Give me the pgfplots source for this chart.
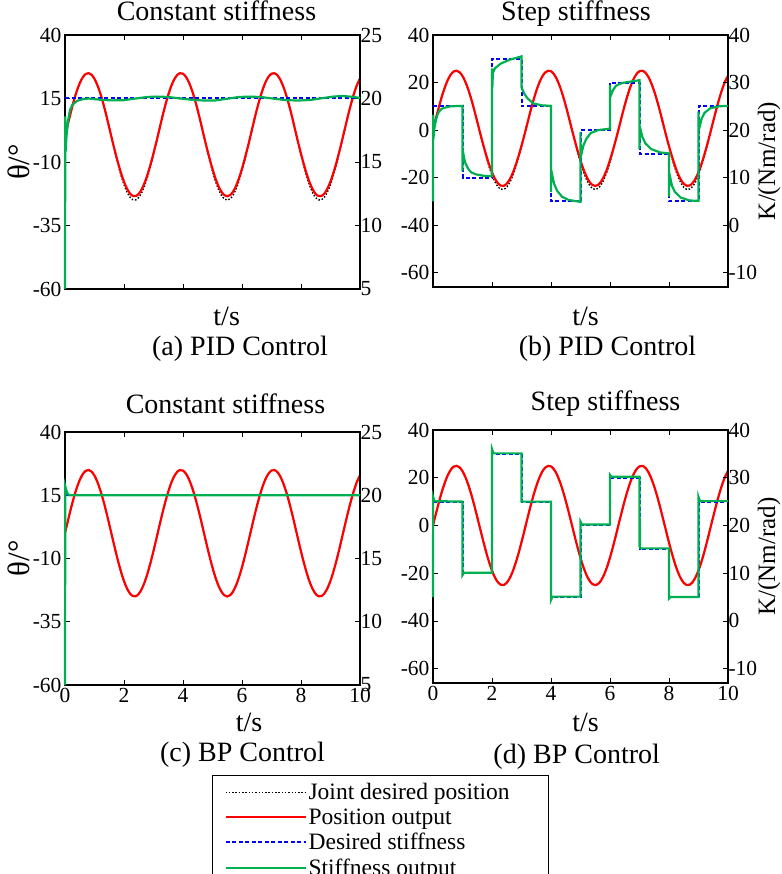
\documentclass[border=0pt]{standalone}
\usepackage{fontspec}
\setmainfont{Liberation Serif}
\usepackage{pgfplots}
\usepackage{pgfplotstable}
\pgfplotsset{compat=1.18}

\definecolor{kgreen}{RGB}{0,176,80}
\definecolor{kblue}{RGB}{0,0,255}
\definecolor{kred}{RGB}{255,0,0}

\newcommand\tickfont{\fontsize{21.5}{24}\selectfont}
\newcommand\labfont{\fontsize{28}{32}\selectfont}
\newcommand\legfont{\fontsize{23.5}{26}\selectfont}

% joint desired position (deg)
\pgfplotstableread{
t y
0.0 0
0.1 4.97
0.2 9.74
0.3 14.12
0.4 17.94
0.5 21.04
0.6 23.30
0.7 24.64
0.8 24.99
0.9 24.35
1.0 22.73
1.1 20.21
1.2 16.89
1.3 12.89
1.4 8.38
1.5 3.53
1.6 -1.46
1.7 -6.39
1.8 -11.06
1.9 -15.30
2.0 -18.92
2.1 -21.79
2.2 -23.79
2.3 -24.84
2.4 -24.91
2.5 -23.97
2.6 -22.09
2.7 -19.32
2.8 -15.78
2.9 -11.62
3.0 -6.99
3.1 -2.08
3.2 2.91
3.3 7.79
3.4 12.35
3.5 16.43
3.6 19.84
3.7 22.47
3.8 24.20
3.9 24.96
4.0 24.74
4.1 23.52
4.2 21.37
4.3 18.36
4.4 14.62
4.5 10.30
4.6 5.57
4.7 0.62
4.8 -4.36
4.9 -9.16
5.0 -13.60
5.1 -17.50
5.2 -20.70
5.3 -23.05
5.4 -24.52
5.5 -25.00
5.6 -24.48
5.7 -22.98
5.8 -20.57
5.9 -17.36
6.0 -13.42
6.1 -8.96
6.2 -4.14
6.3 0.84
6.4 5.79
6.5 10.51
6.6 14.80
6.7 18.51
6.8 21.49
6.9 23.59
7.0 24.77
7.1 24.95
7.2 24.14
7.3 22.38
7.4 19.69
7.5 16.26
7.6 12.18
7.7 7.62
7.8 2.70
7.9 -2.30
8.0 -7.20
8.1 -11.77
8.2 -15.94
8.3 -19.47
8.4 -22.18
8.5 -24.04
8.6 -24.92
8.7 -24.81
8.8 -23.71
8.9 -21.67
9.0 -18.78
9.1 -15.14
9.2 -10.91
9.3 -6.19
9.4 -1.24
9.5 3.75
9.6 8.56
9.7 13.07
9.8 17.08
9.9 20.42
10.0 22.82
}\posdes

% position output, PID (troughs a bit shallower)
\pgfplotstableread{
t y
0.0 0
0.1 4.97
0.2 9.74
0.3 14.12
0.4 17.94
0.5 21.04
0.6 23.30
0.7 24.64
0.8 24.99
0.9 24.35
1.0 22.73
1.1 20.21
1.2 16.89
1.3 12.89
1.4 8.38
1.5 3.53
1.6 -1.37
1.7 -6.01
1.8 -10.40
1.9 -14.38
2.0 -17.78
2.1 -20.48
2.2 -22.36
2.3 -23.35
2.4 -23.42
2.5 -22.53
2.6 -20.76
2.7 -18.16
2.8 -14.83
2.9 -10.92
3.0 -6.57
3.1 -1.96
3.2 2.91
3.3 7.79
3.4 12.35
3.5 16.43
3.6 19.84
3.7 22.47
3.8 24.20
3.9 24.96
4.0 24.74
4.1 23.52
4.2 21.37
4.3 18.36
4.4 14.62
4.5 10.30
4.6 5.57
4.7 0.62
4.8 -4.10
4.9 -8.61
5.0 -12.78
5.1 -16.45
5.2 -19.46
5.3 -21.67
5.4 -23.05
5.5 -23.50
5.6 -23.01
5.7 -21.60
5.8 -19.34
5.9 -16.32
6.0 -12.61
6.1 -8.42
6.2 -3.89
6.3 0.84
6.4 5.79
6.5 10.51
6.6 14.80
6.7 18.51
6.8 21.49
6.9 23.59
7.0 24.77
7.1 24.95
7.2 24.14
7.3 22.38
7.4 19.69
7.5 16.26
7.6 12.18
7.7 7.62
7.8 2.70
7.9 -2.16
8.0 -6.77
8.1 -11.06
8.2 -14.98
8.3 -18.30
8.4 -20.85
8.5 -22.60
8.6 -23.42
8.7 -23.32
8.8 -22.29
8.9 -20.37
9.0 -17.65
9.1 -14.23
9.2 -10.26
9.3 -5.82
9.4 -1.17
9.5 3.75
9.6 8.56
9.7 13.07
9.8 17.08
9.9 20.42
10.0 22.82
}\posout

% desired stiffness, constant
\pgfplotstableread{
t k
0 20
10 20
}\kconst

% desired stiffness, steps
\pgfplotstableread{
t k
0 25
1 25
1 10
2 10
2 35
3 35
3 25
4 25
4 5
5 5
5 20
6 20
6 30
7 30
7 15
8 15
8 5
9 5
9 25
10 25
}\kstep

% stiffness output (a) PID, constant
\pgfplotstableread{
t k
0 5
0.01 18.6
0.02 15.8
0.05 17.0
0.1 18.2
0.17 19.1
0.25 19.5
0.4 19.8
0.6 19.95
0.8 20.0
1.2 19.9
1.6 19.85
2.0 19.87
2.4 20.0
2.8 20.12
3.1 20.15
3.5 20.12
3.9 20.0
4.3 19.9
4.7 19.84
5.1 19.85
5.5 19.98
5.9 20.12
6.3 20.15
6.7 20.1
7.1 19.98
7.5 19.87
7.9 19.84
8.3 19.88
8.7 20.02
9.1 20.15
9.4 20.2
9.7 20.14
10 20.05
}\kA

% stiffness output (b) PID, steps
\pgfplotstableread{
t k
0 5
0.005 23.2
0.01 18.0
0.05 20.5
0.1 22.1
0.15 23.2
0.2 23.9
0.3 24.5
0.45 24.8
0.6 25.0
1.0 25.1
1.0 11.3
1.005 16.0
1.05 14.2
1.1 13.0
1.2 11.8
1.3 11.1
1.45 10.7
1.7 10.4
2.0 10.3
2.0 33.0
2.01 28.8
2.03 32.0
2.1 33.0
2.3 34.0
2.6 34.8
2.95 35.4
3.0 35.5
3.0 29.0
3.1 27.6
3.2 26.7
3.4 25.6
3.7 25.2
4.0 25.1
4.0 7.0
4.01 11.5
4.1 8.8
4.2 7.3
4.37 6.0
4.6 5.3
5.0 4.9
5.0 19.5
5.01 14.4
5.1 16.8
5.2 18.2
5.35 19.4
5.6 20.0
6.0 20.3
6.0 29.5
6.01 27.0
6.1 28.4
6.2 29.3
6.4 29.9
7.0 30.5
7.0 16.0
7.01 20.7
7.1 18.5
7.2 17.2
7.4 16.0
7.7 15.3
8.0 15.1
8.0 6.0
8.01 10.9
8.1 8.3
8.2 7.0
8.4 5.8
8.7 5.2
9.0 5.1
9.0 23.9
9.01 20.0
9.1 22.3
9.2 23.6
9.4 24.6
9.7 25.0
10.0 25.1
}\kB

% stiffness output (c) BP, constant
\pgfplotstableread{
t k
0 5
0.01 20.7
0.05 20.35
0.1 20.1
0.15 20.0
10 20.0
}\kC

% stiffness output (d) BP, steps
\pgfplotstableread{
t k
0 5
0.005 26.0
0.05 25.1
1.0 25.0
1.0 9.6
1.05 10.1
2.0 10.1
2.0 36.0
2.05 35.1
3.0 35.1
3.0 25.0
4.0 25.0
4.0 4.4
4.05 5.1
5.0 5.1
5.0 20.8
5.05 20.2
6.0 20.2
6.0 30.6
6.05 30.2
7.0 30.2
7.0 15.5
7.01 21.5
7.02 15.3
7.05 15.2
8.0 15.2
8.0 4.7
8.05 5.0
9.0 5.0
9.0 26.0
9.05 25.1
10.0 25.1
}\kD

\pgfplotsset{
  panel/.style={
    scale only axis, width=295pt, anchor=south west,
    xmin=0, xmax=10, xtick={0,2,...,10},
    tick align=inside, major tick length=5pt,
    axis line style={line width=1.1pt},
    major tick style={line width=0.9pt, black},
    tick label style={font=\tickfont},
    /pgf/number format/assume math mode=true,
    title style={font=\labfont, anchor=base, at={(0.5,1)}},
    xlabel style={font=\labfont, anchor=base},
    ylabel style={font=\labfont, anchor=center},
  },
  leftax/.style={xtick pos=both, ytick pos=left},
  rightax/.style={hide x axis, ytick pos=right, yticklabel pos=right,
    yticklabel style={xshift=-3pt}, clip=false},
  despos/.style={black, line width=1.4pt, dash pattern=on 1.5pt off 1.8pt},
  posout/.style={kred, line width=2.2pt},
  desk/.style={kblue, line width=2pt, dash pattern=on 4pt off 2.5pt},
  kout/.style={kgreen, line width=2.2pt},
}

\begin{document}
\begin{tikzpicture}
\useasboundingbox (0pt,0pt) rectangle (781pt,-874pt);

% ---------- (a) PID, constant stiffness
\begin{axis}[panel, leftax, at={(65pt,-289pt)}, height=254pt,
  ymin=-60, ymax=40, ytick={-60,-35,-10,15,40}, xticklabels={},
  title={Constant stiffness}, title style={xshift=4pt, yshift=8pt},
  xlabel={t/s}, xlabel style={at={(axis description cs:0.548,0)}, yshift=-36pt},
  ylabel={θ/°}, ylabel style={at={(axis description cs:-0.158,0.5)}, font=\fontsize{31}{34}\selectfont}]
\addplot[despos, smooth] table[x=t, y=y] {\posdes};
\addplot[posout, smooth] table[x=t, y=y] {\posout};
\end{axis}
\begin{axis}[panel, rightax, at={(65pt,-289pt)}, height=254pt,
  ymin=5, ymax=25, ytick={5,10,...,25}]
\addplot[desk] table[x=t, y=k] {\kconst};
\addplot[kout] table[x=t, y=k] {\kA};
\end{axis}

% ---------- (b) PID, step stiffness
\begin{axis}[panel, leftax, at={(433pt,-287pt)}, height=252pt,
  ymin=-66, ymax=40, ytick={-60,-40,...,40}, xticklabels={},
  title={Step stiffness}, title style={xshift=-4.5pt, yshift=8pt},
  xlabel={t/s}, xlabel style={at={(axis description cs:0.517,0)}, yshift=-38pt}]
\addplot[despos, smooth] table[x=t, y=y] {\posdes};
\addplot[posout, smooth] table[x=t, y=y] {\posout};
\end{axis}
\begin{axis}[panel, rightax, at={(433pt,-287pt)}, height=252pt,
  ymin=-13, ymax=40, ytick={-10,0,...,40},
  ylabel={K/(Nm/rad)}, ylabel style={at={(axis description cs:1.139,0.5)}, font=\fontsize{25}{28}\selectfont}]
\addplot[desk] table[x=t, y=k] {\kstep};
\addplot[kout] table[x=t, y=k] {\kB};
\end{axis}

% ---------- (c) BP, constant stiffness
\begin{axis}[panel, leftax, at={(65pt,-685pt)}, height=253pt,
  ymin=-60, ymax=40, ytick={-60,-35,-10,15,40},
  title={Constant stiffness}, title style={xshift=13pt, yshift=12.7pt},
  xlabel={t/s}, xlabel style={at={(axis description cs:0.624,0)}, yshift=-46.7pt},
  ylabel={θ/°}, ylabel style={at={(axis description cs:-0.158,0.5)}, font=\fontsize{31}{34}\selectfont},
  legend image code/.code={\draw[#1] (0pt,0pt) -- (80pt,0pt);},
  legend cell align=left,
  legend style={at={(0.4983,-0.3557)}, anchor=north west, draw=black,
    line width=0.8pt, fill=white, font=\legfont, inner xsep=12pt, inner ysep=6pt,
    row sep=3.5pt, cells={anchor=west}}]
\addlegendimage{despos}\addlegendentry{Joint desired position\hspace*{25pt}}
\addlegendimage{posout}\addlegendentry{Position output}
\addlegendimage{desk}\addlegendentry{Desired stiffness}
\addlegendimage{kout}\addlegendentry{Stiffness output}
\addplot[despos, smooth, forget plot] table[x=t, y=y] {\posdes};
\addplot[posout, smooth, forget plot] table[x=t, y=y] {\posdes};
\end{axis}
\begin{axis}[panel, rightax, at={(65pt,-685pt)}, height=253pt,
  ymin=5, ymax=25, ytick={5,10,...,25}]
\addplot[desk] table[x=t, y=k] {\kconst};
\addplot[kout] table[x=t, y=k] {\kC};
\end{axis}

% ---------- (d) BP, step stiffness
\begin{axis}[panel, leftax, at={(433pt,-683pt)}, height=253pt,
  ymin=-66, ymax=40, ytick={-60,-40,...,40},
  title={Step stiffness}, title style={xshift=25pt, yshift=13.3pt},
  xlabel={t/s}, xlabel style={at={(axis description cs:0.517,0)}, yshift=-48.7pt}]
\addplot[despos, smooth] table[x=t, y=y] {\posdes};
\addplot[posout, smooth] table[x=t, y=y] {\posdes};
\end{axis}
\begin{axis}[panel, rightax, at={(433pt,-683pt)}, height=253pt,
  ymin=-13, ymax=40, ytick={-10,0,...,40},
  ylabel={K/(Nm/rad)}, ylabel style={at={(axis description cs:1.139,0.5)}, font=\fontsize{25}{28}\selectfont}]
\addplot[desk] table[x=t, y=k] {\kstep};
\addplot[kout] table[x=t, y=k] {\kD};
\end{axis}

% sub-figure captions
\node[anchor=base, font=\labfont] at (240pt,-355pt) {(a) PID Control};
\node[anchor=base, font=\labfont] at (607.5pt,-355pt) {(b) PID Control};
\node[anchor=base, font=\labfont] at (242.5pt,-761.7pt) {(c) BP Control};
\node[anchor=base, font=\labfont] at (576.7pt,-763.3pt) {(d) BP Control};
\end{tikzpicture}
\end{document}
